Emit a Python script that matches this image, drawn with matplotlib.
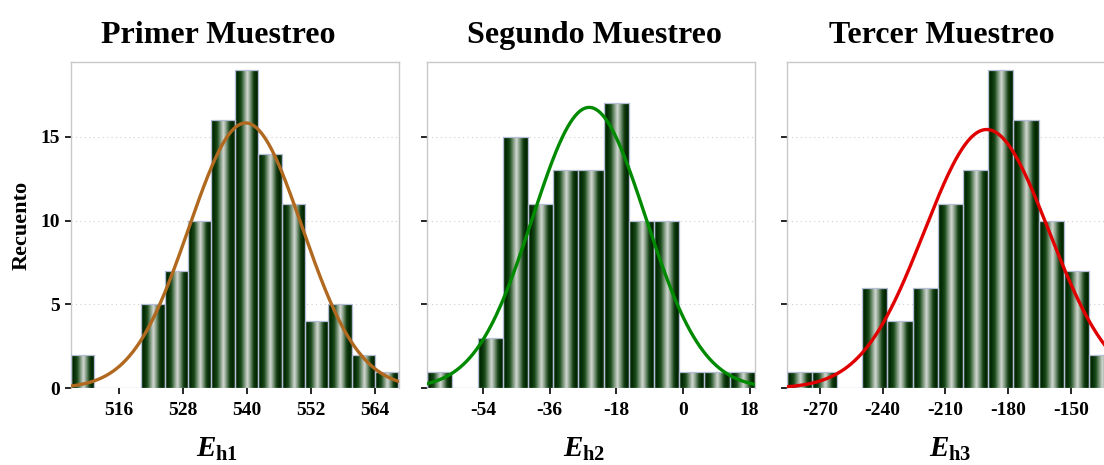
import numpy as np
import matplotlib
matplotlib.use("Agg")
import matplotlib.pyplot as plt
from matplotlib.colors import LinearSegmentedColormap

plt.rcParams['font.family'] = ['Liberation Serif', 'DejaVu Serif']
plt.rcParams['mathtext.fontset'] = 'custom'
plt.rcParams['mathtext.it'] = 'Liberation Serif:italic:bold'
plt.rcParams['mathtext.bf'] = 'Liberation Serif:bold'
plt.rcParams['mathtext.rm'] = 'Liberation Serif:bold'

# ---- data ----
titles = ["Primer Muestreo", "Segundo Muestreo", "Tercer Muestreo"]
xlabels = [r"$E_{\mathbf{h1}}$", r"$E_{\mathbf{h2}}$", r"$E_{\mathbf{h3}}$"]

bin_start_1 = 507.1
bin_width_1 = 4.38
counts_1 = [2, 0, 0, 5, 7, 10, 16, 19, 14, 11, 4, 5, 2, 1]

bin_start_2 = -69.0
bin_width_2 = 6.80
counts_2 = [1, 0, 3, 15, 11, 13, 13, 17, 10, 10, 1, 1, 1]

bin_start_3 = -285.8
bin_width_3 = 12.03
counts_3 = [1, 1, 0, 6, 4, 6, 11, 13, 19, 16, 10, 7, 2]

# fitted normal curves (mean, sd, peak count)
curve_mean = [539.8, -25.3, -190.3]
curve_sd = [10.6, 15.3, 29.8]
curve_peak = [15.83, 16.76, 15.44]
curve_colors = ["#b0691f", "#008a00", "#e00000"]

xticks_1 = [516, 528, 540, 552, 564]
xticks_2 = [-54, -36, -18, 0, 18]
xticks_3 = [-270, -240, -210, -180, -150]
yticks = [0, 5, 10, 15]
ymax = 19.45

panels = [
    (bin_start_1, bin_width_1, counts_1, xticks_1),
    (bin_start_2, bin_width_2, counts_2, xticks_2),
    (bin_start_3, bin_width_3, counts_3, xticks_3),
]

W, H = 1104, 465
fig = plt.figure(figsize=(W / 100, H / 100), dpi=100)

lefts_px = [71, 427.3, 786.7]
width_px = 327.5
bottom_px = 388.3
top_px = 62.3
xlabel_center_px = [217, 584.5, 950]
title_center_px = [218, 594, 942]

cyl = LinearSegmentedColormap.from_list(
    "cyl",
    [(0.0, "#1d4d1d"), (0.10, "#002600"), (0.26, "#1a4a1a"),
     (0.40, "#7f9a7f"), (0.52, "#d4d8d4"), (0.63, "#86a086"),
     (0.78, "#143f14"), (0.90, "#002400"), (1.0, "#173f17")])
grad = np.linspace(0, 1, 256).reshape(1, -1)

for i, (start, bw, counts, xt) in enumerate(panels):
    ax = fig.add_axes([lefts_px[i] / W, (H - bottom_px) / H,
                       width_px / W, (bottom_px - top_px) / H])
    n = len(counts)
    edges = start + bw * np.arange(n + 1)
    lefts = edges[:-1]
    bars = ax.bar(lefts, counts, width=bw, align='edge', color='none',
                  edgecolor='#b4bcd6', linewidth=0.9, zorder=3)
    for b, c in zip(bars, counts):
        if c <= 0:
            continue
        x0 = b.get_x()
        im = ax.imshow(grad, cmap=cyl, aspect='auto',
                       extent=[x0, x0 + b.get_width(), 0, c],
                       zorder=2, interpolation='bilinear')
        im.set_clip_path(b)
    xs = np.linspace(edges[0], edges[-1], 400)
    ys = curve_peak[i] * np.exp(-0.5 * ((xs - curve_mean[i]) / curve_sd[i]) ** 2)
    ax.plot(xs, ys, color=curve_colors[i], lw=2.4, zorder=4, solid_capstyle='round')

    ax.set_xlim(edges[0], edges[-1])
    ax.set_ylim(0, ymax)
    ax.set_xticks(xt)
    ax.set_xticklabels([str(v) for v in xt])
    ax.set_yticks(yticks)
    if i == 0:
        ax.set_yticklabels([str(v) for v in yticks])
        ax.set_ylabel("Recuento", fontsize=16, fontweight='bold')
        ax.yaxis.set_label_coords(-(71 - 32) / width_px, 0.5)
    else:
        ax.set_yticklabels([])
    ax.grid(axis='y', linestyle=(0, (1, 3)), color='#cfcfcf', linewidth=0.8, zorder=0)
    ax.set_axisbelow(True)
    for s in ['left', 'top', 'right']:
        ax.spines[s].set_color('#c8c8c8')
        ax.spines[s].set_linewidth(1.0)
    ax.spines['bottom'].set_visible(False)
    ax.tick_params(axis='both', colors='black', length=4, width=1.2,
                   labelsize=14, pad=4)
    ax.tick_params(axis='x', pad=6)
    for lab in ax.get_xticklabels() + ax.get_yticklabels():
        lab.set_fontweight('bold')
    ax.set_title(titles[i], fontsize=23, fontweight='bold', pad=14,
                 x=(title_center_px[i] - lefts_px[i]) / width_px)
    ax.set_xlabel(xlabels[i], fontsize=21)
    ax.xaxis.set_label_coords((xlabel_center_px[i] - lefts_px[i]) / width_px,
                              -(459 - bottom_px + 4) / (bottom_px - top_px))
    ax.xaxis.label.set_va('bottom')

fig.savefig("out.png", dpi=100)
